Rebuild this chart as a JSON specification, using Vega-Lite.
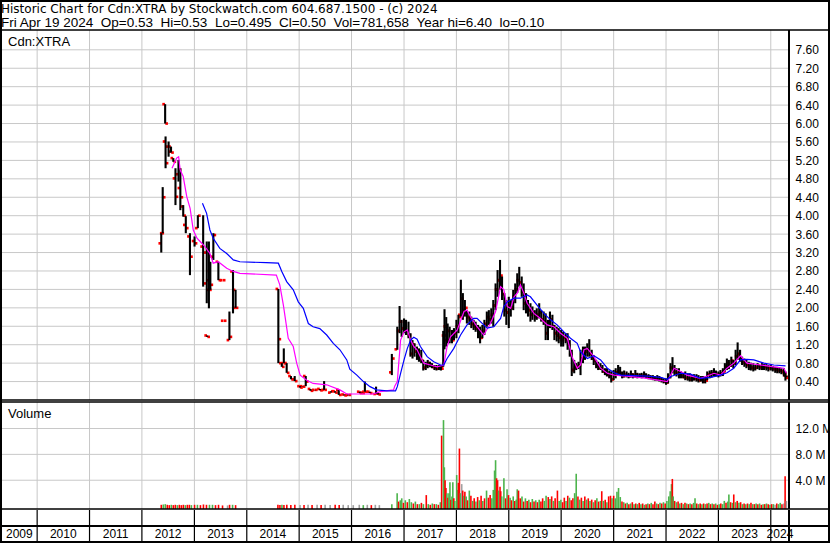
{
"$schema":"https://vega.github.io/schema/vega-lite/v6.json",
"width":830,"height":543,"autosize":"none","padding":0,"background":"white",
"config":{"view":{"stroke":"black","strokeWidth":4},"font":"Liberation Sans",
"axis":{"labelFont":"Liberation Sans","labelFontSize":12,"labelColor":"#000000","ticks":false,"tickSize":0,"domain":false,"grid":false,"labelPadding":6}},
"title":{"text":"Historic Chart for Cdn:XTRA by Stockwatch.com 604.687.1500 - (c) 2024","subtitle":"Fri Apr 19 2024 \u00a0Op=0.53 \u00a0Hi=0.53 \u00a0Lo=0.495 \u00a0Cl=0.50 \u00a0Vol=781,658 \u00a0Year hi=6.40 \u00a0lo=0.10","anchor":"start","frame":"group","orient":"top","offset":-30,"dy":0.5,"fontSize":12,"font":"DejaVu Sans","fontWeight":"normal","color":"#000000","subtitleFont":"Liberation Sans","subtitleFontSize":13.5,"subtitleColor":"#000000","subtitlePadding":0,"subtitleFontWeight":"normal","dx":1},
"datasets":{
"pg":[{"p":0.4},{"p":0.8},{"p":1.2},{"p":1.6},{"p":2.0},{"p":2.4},{"p":2.8},{"p":3.2},{"p":3.6},{"p":4.0},{"p":4.4},{"p":4.8},{"p":5.2},{"p":5.6},{"p":6.0},{"p":6.4},{"p":6.8},{"p":7.2},{"p":7.6}],
"vg":[{"g":4},{"g":8},{"g":12}],
"yr":[{"d":"2010-01-01"},{"d":"2011-01-01"},{"d":"2012-01-01"},{"d":"2013-01-01"},{"d":"2014-01-01"},{"d":"2015-01-01"},{"d":"2016-01-01"},{"d":"2017-01-01"},{"d":"2018-01-01"},{"d":"2019-01-01"},{"d":"2020-01-01"},{"d":"2021-01-01"},{"d":"2022-01-01"},{"d":"2023-01-01"},{"d":"2024-01-01"}],
"yl":[{"d":"2009-08-30","y":"2009"},{"d":"2010-07-02","y":"2010"},{"d":"2011-07-02","y":"2011"},{"d":"2012-07-02","y":"2012"},{"d":"2013-07-02","y":"2013"},{"d":"2014-07-02","y":"2014"},{"d":"2015-07-02","y":"2015"},{"d":"2016-07-02","y":"2016"},{"d":"2017-07-02","y":"2017"},{"d":"2018-07-02","y":"2018"},{"d":"2019-07-02","y":"2019"},{"d":"2020-07-02","y":"2020"},{"d":"2021-07-02","y":"2021"},{"d":"2022-07-02","y":"2022"},{"d":"2023-07-02","y":"2023"},{"d":"2024-03-05","y":"2024"}],
"px":[
{"d":"2012-05-15","o":3.40,"h":3.62,"l":3.20,"c":3.62},
{"d":"2012-05-25","o":3.62,"h":4.62,"l":3.62,"c":4.40},
{"d":"2012-06-11","o":6.42,"h":6.42,"l":6.00,"c":6.00},
{"d":"2012-06-14","o":5.61,"h":5.72,"l":5.03,"c":5.14},
{"d":"2012-07-05","o":5.50,"h":5.61,"l":5.28,"c":5.39},
{"d":"2012-07-22","o":5.50,"h":5.50,"l":5.37,"c":5.37},
{"d":"2012-08-07","o":5.25,"h":5.25,"l":5.17,"c":5.17},
{"d":"2012-08-22","o":4.81,"h":5.03,"l":4.23,"c":4.41},
{"d":"2012-09-12","o":4.90,"h":5.21,"l":4.74,"c":5.00},
{"d":"2012-09-25","o":4.60,"h":5.03,"l":4.12,"c":4.40},
{"d":"2012-10-15","o":4.20,"h":4.23,"l":3.98,"c":4.00},
{"d":"2012-11-02","o":3.80,"h":3.99,"l":3.62,"c":3.73},
{"d":"2012-12-01","o":3.55,"h":3.62,"l":2.71,"c":3.11},
{"d":"2013-01-02","o":3.45,"h":3.55,"l":3.33,"c":3.40},
{"d":"2013-01-25","o":3.73,"h":4.01,"l":3.73,"c":4.00},
{"d":"2013-03-03","o":3.33,"h":4.01,"l":2.46,"c":2.53},
{"d":"2013-03-28","o":3.20,"h":3.44,"l":2.10,"c":2.39},
{"d":"2013-03-31","o":1.40,"h":1.40,"l":1.37,"c":1.37},
{"d":"2013-04-12","o":2.60,"h":3.44,"l":1.99,"c":2.39},
{"d":"2013-04-22","o":2.80,"h":3.00,"l":2.39,"c":2.50},
{"d":"2013-05-13","o":3.11,"h":3.62,"l":3.04,"c":3.58},
{"d":"2013-06-17","o":3.00,"h":3.00,"l":2.60,"c":2.60},
{"d":"2013-07-17","o":2.60,"h":2.60,"l":2.60,"c":2.60},
{"d":"2013-07-24","o":1.72,"h":1.72,"l":1.72,"c":1.72},
{"d":"2013-09-02","o":1.30,"h":1.92,"l":1.30,"c":1.37},
{"d":"2013-09-27","o":2.79,"h":2.82,"l":1.88,"c":2.00},
{"d":"2013-10-15","o":2.39,"h":2.39,"l":2.00,"c":2.00},
{"d":"2014-08-09","o":2.41,"h":2.41,"l":0.80,"c":1.32},
{"d":"2014-09-02","o":0.80,"h":0.80,"l":0.72,"c":0.72},
{"d":"2014-09-16","o":0.80,"h":1.12,"l":0.80,"c":0.80},
{"d":"2014-10-06","o":0.80,"h":0.80,"l":0.59,"c":0.59},
{"d":"2014-11-05","o":0.52,"h":0.52,"l":0.45,"c":0.45},
{"d":"2014-12-01","o":0.45,"h":0.52,"l":0.41,"c":0.41},
{"d":"2015-01-07","o":0.30,"h":0.30,"l":0.27,"c":0.27},
{"d":"2015-01-25","o":0.30,"h":0.30,"l":0.29,"c":0.29},
{"d":"2015-02-16","o":0.52,"h":0.52,"l":0.30,"c":0.40},
{"d":"2015-03-21","o":0.24,"h":0.24,"l":0.20,"c":0.20},
{"d":"2015-04-20","o":0.22,"h":0.22,"l":0.21,"c":0.22},
{"d":"2015-05-26","o":0.24,"h":0.24,"l":0.21,"c":0.21},
{"d":"2015-06-24","o":0.22,"h":0.41,"l":0.22,"c":0.22},
{"d":"2015-08-10","o":0.16,"h":0.19,"l":0.16,"c":0.19},
{"d":"2015-09-08","o":0.19,"h":0.19,"l":0.16,"c":0.16},
{"d":"2015-10-04","o":0.22,"h":0.22,"l":0.11,"c":0.11},
{"d":"2015-11-10","o":0.12,"h":0.12,"l":0.10,"c":0.10},
{"d":"2015-12-10","o":0.11,"h":0.12,"l":0.10,"c":0.11},
{"d":"2016-02-27","o":0.18,"h":0.18,"l":0.15,"c":0.15},
{"d":"2016-03-15","o":0.16,"h":0.16,"l":0.15,"c":0.15},
{"d":"2016-04-03","o":0.18,"h":0.40,"l":0.18,"c":0.18},
{"d":"2016-05-07","o":0.18,"h":0.18,"l":0.15,"c":0.15},
{"d":"2016-06-20","o":0.13,"h":0.29,"l":0.13,"c":0.14},
{"d":"2016-07-05","o":0.15,"h":0.15,"l":0.12,"c":0.12},
{"d":"2016-10-08","o":0.60,"h":1.00,"l":0.54,"c":0.90},
{"d":"2016-11-15","o":1.10,"h":1.59,"l":1.09,"c":1.50},
{"d":"2016-12-01","o":1.50,"h":2.04,"l":1.45,"c":1.70},
{"d":"2016-12-15","o":1.70,"h":1.74,"l":1.37,"c":1.55},
{"d":"2017-01-01","o":1.55,"h":1.77,"l":1.45,"c":1.60},
{"d":"2017-01-15","o":1.60,"h":1.74,"l":1.41,"c":1.50},
{"d":"2017-02-01","o":1.50,"h":1.70,"l":1.34,"c":1.40},
{"d":"2017-02-15","o":1.40,"h":1.45,"l":0.94,"c":1.00},
{"d":"2017-03-01","o":1.00,"h":1.30,"l":0.90,"c":1.20},
{"d":"2017-03-15","o":1.20,"h":1.23,"l":0.94,"c":1.05},
{"d":"2017-04-01","o":1.05,"h":1.16,"l":0.87,"c":1.00},
{"d":"2017-04-15","o":1.00,"h":1.12,"l":0.83,"c":0.95},
{"d":"2017-05-01","o":0.95,"h":1.09,"l":0.80,"c":0.85},
{"d":"2017-05-15","o":0.85,"h":0.87,"l":0.64,"c":0.70},
{"d":"2017-06-01","o":0.70,"h":0.83,"l":0.65,"c":0.75},
{"d":"2017-06-15","o":0.75,"h":0.87,"l":0.69,"c":0.80},
{"d":"2017-07-01","o":0.80,"h":0.83,"l":0.71,"c":0.75},
{"d":"2017-07-15","o":0.75,"h":0.80,"l":0.69,"c":0.72},
{"d":"2017-08-01","o":0.72,"h":0.76,"l":0.65,"c":0.70},
{"d":"2017-08-15","o":0.70,"h":0.76,"l":0.64,"c":0.68},
{"d":"2017-09-01","o":0.68,"h":0.76,"l":0.65,"c":0.70},
{"d":"2017-09-15","o":0.70,"h":0.76,"l":0.64,"c":0.68},
{"d":"2017-10-01","o":0.72,"h":1.50,"l":0.72,"c":1.40},
{"d":"2017-10-10","o":1.40,"h":1.97,"l":1.10,"c":1.60},
{"d":"2017-10-22","o":1.60,"h":1.80,"l":1.16,"c":1.30},
{"d":"2017-11-01","o":1.30,"h":1.66,"l":1.23,"c":1.50},
{"d":"2017-11-15","o":1.50,"h":1.59,"l":1.23,"c":1.35},
{"d":"2017-12-01","o":1.35,"h":1.52,"l":1.23,"c":1.30},
{"d":"2017-12-15","o":1.30,"h":1.56,"l":1.30,"c":1.45},
{"d":"2018-01-01","o":1.45,"h":1.74,"l":1.34,"c":1.60},
{"d":"2018-01-15","o":1.60,"h":1.85,"l":1.45,"c":1.80},
{"d":"2018-02-01","o":1.85,"h":2.61,"l":1.81,"c":2.20},
{"d":"2018-02-15","o":2.20,"h":2.32,"l":1.74,"c":1.95},
{"d":"2018-03-01","o":1.95,"h":2.17,"l":1.81,"c":2.00},
{"d":"2018-03-15","o":1.90,"h":1.95,"l":1.66,"c":1.80},
{"d":"2018-04-01","o":1.80,"h":1.92,"l":1.63,"c":1.75},
{"d":"2018-04-15","o":1.75,"h":1.81,"l":1.56,"c":1.65},
{"d":"2018-05-01","o":1.65,"h":1.74,"l":1.52,"c":1.60},
{"d":"2018-05-15","o":1.60,"h":1.70,"l":1.48,"c":1.55},
{"d":"2018-06-01","o":1.55,"h":1.63,"l":1.34,"c":1.45},
{"d":"2018-06-15","o":1.45,"h":1.59,"l":1.23,"c":1.35},
{"d":"2018-07-01","o":1.35,"h":1.63,"l":1.34,"c":1.50},
{"d":"2018-07-15","o":1.50,"h":1.74,"l":1.41,"c":1.65},
{"d":"2018-08-01","o":1.65,"h":1.92,"l":1.59,"c":1.80},
{"d":"2018-08-15","o":1.80,"h":1.95,"l":1.63,"c":1.75},
{"d":"2018-09-01","o":1.75,"h":1.99,"l":1.66,"c":1.85},
{"d":"2018-09-15","o":1.85,"h":2.17,"l":1.59,"c":2.05},
{"d":"2018-10-01","o":2.05,"h":2.53,"l":1.95,"c":2.40},
{"d":"2018-10-15","o":2.40,"h":2.82,"l":2.24,"c":2.60},
{"d":"2018-11-01","o":2.60,"h":3.04,"l":2.39,"c":2.70},
{"d":"2018-11-15","o":2.60,"h":2.68,"l":2.17,"c":2.30},
{"d":"2018-12-01","o":2.30,"h":2.32,"l":1.81,"c":1.95},
{"d":"2018-12-15","o":1.95,"h":2.17,"l":1.63,"c":1.90},
{"d":"2019-01-01","o":1.90,"h":2.24,"l":1.56,"c":2.05},
{"d":"2019-01-15","o":2.05,"h":2.17,"l":1.81,"c":2.00},
{"d":"2019-02-01","o":2.00,"h":2.39,"l":1.95,"c":2.25},
{"d":"2019-02-15","o":2.25,"h":2.53,"l":2.10,"c":2.40},
{"d":"2019-03-01","o":2.40,"h":2.75,"l":2.32,"c":2.60},
{"d":"2019-03-15","o":2.60,"h":2.89,"l":2.46,"c":2.55},
{"d":"2019-04-01","o":2.55,"h":2.68,"l":2.24,"c":2.35},
{"d":"2019-04-15","o":2.35,"h":2.53,"l":1.95,"c":2.10},
{"d":"2019-05-01","o":2.10,"h":2.32,"l":1.88,"c":2.00},
{"d":"2019-05-15","o":2.00,"h":2.17,"l":1.81,"c":1.95},
{"d":"2019-06-01","o":1.95,"h":2.10,"l":1.70,"c":1.85},
{"d":"2019-06-15","o":1.85,"h":2.03,"l":1.74,"c":1.90},
{"d":"2019-07-01","o":1.90,"h":1.95,"l":1.70,"c":1.80},
{"d":"2019-07-15","o":1.80,"h":1.99,"l":1.74,"c":1.85},
{"d":"2019-08-01","o":1.85,"h":2.10,"l":1.77,"c":1.90},
{"d":"2019-08-15","o":1.90,"h":1.95,"l":1.70,"c":1.75},
{"d":"2019-09-01","o":1.75,"h":1.92,"l":1.63,"c":1.70},
{"d":"2019-09-15","o":1.70,"h":1.88,"l":1.30,"c":1.45},
{"d":"2019-10-01","o":1.45,"h":1.74,"l":1.30,"c":1.60},
{"d":"2019-10-15","o":1.60,"h":1.92,"l":1.56,"c":1.75},
{"d":"2019-11-01","o":1.75,"h":1.85,"l":1.52,"c":1.60},
{"d":"2019-11-15","o":1.60,"h":1.63,"l":1.30,"c":1.45},
{"d":"2019-12-01","o":1.45,"h":1.59,"l":1.27,"c":1.40},
{"d":"2019-12-15","o":1.40,"h":1.56,"l":1.23,"c":1.35},
{"d":"2020-01-01","o":1.35,"h":1.52,"l":1.16,"c":1.30},
{"d":"2020-01-15","o":1.30,"h":1.48,"l":1.16,"c":1.35},
{"d":"2020-02-01","o":1.35,"h":1.45,"l":1.23,"c":1.30},
{"d":"2020-02-15","o":1.30,"h":1.45,"l":1.09,"c":1.20},
{"d":"2020-03-01","o":1.20,"h":1.30,"l":0.94,"c":1.00},
{"d":"2020-03-15","o":1.00,"h":1.09,"l":0.52,"c":0.65},
{"d":"2020-04-01","o":0.65,"h":0.87,"l":0.58,"c":0.70},
{"d":"2020-04-15","o":0.70,"h":0.80,"l":0.65,"c":0.72},
{"d":"2020-05-01","o":0.72,"h":0.83,"l":0.67,"c":0.75},
{"d":"2020-05-15","o":0.75,"h":1.09,"l":0.54,"c":0.90},
{"d":"2020-06-01","o":0.90,"h":1.16,"l":0.80,"c":1.00},
{"d":"2020-06-15","o":1.00,"h":1.16,"l":0.87,"c":1.05},
{"d":"2020-07-01","o":1.05,"h":1.23,"l":0.94,"c":1.10},
{"d":"2020-07-15","o":1.10,"h":1.32,"l":0.94,"c":1.00},
{"d":"2020-08-01","o":1.00,"h":1.09,"l":0.87,"c":0.95},
{"d":"2020-08-15","o":0.90,"h":0.94,"l":0.76,"c":0.85},
{"d":"2020-09-01","o":0.85,"h":0.87,"l":0.69,"c":0.75},
{"d":"2020-09-15","o":0.75,"h":0.83,"l":0.65,"c":0.70},
{"d":"2020-10-01","o":0.70,"h":0.80,"l":0.65,"c":0.68},
{"d":"2020-10-15","o":0.68,"h":0.76,"l":0.59,"c":0.62},
{"d":"2020-11-01","o":0.62,"h":0.69,"l":0.54,"c":0.58},
{"d":"2020-11-15","o":0.58,"h":0.69,"l":0.51,"c":0.55},
{"d":"2020-12-01","o":0.55,"h":0.64,"l":0.47,"c":0.52},
{"d":"2020-12-15","o":0.52,"h":0.62,"l":0.38,"c":0.45},
{"d":"2021-01-01","o":0.45,"h":0.65,"l":0.43,"c":0.55},
{"d":"2021-01-15","o":0.55,"h":0.69,"l":0.47,"c":0.60},
{"d":"2021-02-01","o":0.60,"h":0.76,"l":0.54,"c":0.62},
{"d":"2021-02-15","o":0.62,"h":0.72,"l":0.52,"c":0.58},
{"d":"2021-03-01","o":0.58,"h":0.62,"l":0.47,"c":0.52},
{"d":"2021-03-15","o":0.52,"h":0.64,"l":0.49,"c":0.55},
{"d":"2021-04-01","o":0.55,"h":0.62,"l":0.49,"c":0.53},
{"d":"2021-04-15","o":0.53,"h":0.59,"l":0.47,"c":0.52},
{"d":"2021-05-01","o":0.52,"h":0.64,"l":0.49,"c":0.55},
{"d":"2021-05-15","o":0.55,"h":0.58,"l":0.47,"c":0.52},
{"d":"2021-06-01","o":0.52,"h":0.65,"l":0.49,"c":0.55},
{"d":"2021-06-15","o":0.55,"h":0.59,"l":0.47,"c":0.52},
{"d":"2021-07-01","o":0.52,"h":0.58,"l":0.48,"c":0.53},
{"d":"2021-07-15","o":0.53,"h":0.59,"l":0.47,"c":0.52},
{"d":"2021-08-01","o":0.52,"h":0.62,"l":0.49,"c":0.54},
{"d":"2021-08-15","o":0.54,"h":0.58,"l":0.47,"c":0.51},
{"d":"2021-09-01","o":0.51,"h":0.56,"l":0.45,"c":0.50},
{"d":"2021-09-15","o":0.50,"h":0.54,"l":0.45,"c":0.48},
{"d":"2021-10-01","o":0.48,"h":0.54,"l":0.43,"c":0.47},
{"d":"2021-10-15","o":0.47,"h":0.52,"l":0.42,"c":0.46},
{"d":"2021-11-01","o":0.46,"h":0.54,"l":0.42,"c":0.47},
{"d":"2021-11-15","o":0.47,"h":0.52,"l":0.40,"c":0.45},
{"d":"2021-12-01","o":0.45,"h":0.49,"l":0.38,"c":0.42},
{"d":"2021-12-15","o":0.42,"h":0.47,"l":0.36,"c":0.40},
{"d":"2022-01-01","o":0.40,"h":0.47,"l":0.33,"c":0.38},
{"d":"2022-01-15","o":0.38,"h":0.58,"l":0.36,"c":0.50},
{"d":"2022-02-01","o":0.50,"h":0.80,"l":0.47,"c":0.70},
{"d":"2022-02-15","o":0.70,"h":0.93,"l":0.58,"c":0.65},
{"d":"2022-03-01","o":0.65,"h":0.76,"l":0.54,"c":0.60},
{"d":"2022-03-15","o":0.60,"h":0.69,"l":0.51,"c":0.58},
{"d":"2022-04-01","o":0.58,"h":0.69,"l":0.47,"c":0.55},
{"d":"2022-04-15","o":0.55,"h":0.62,"l":0.47,"c":0.52},
{"d":"2022-05-01","o":0.52,"h":0.59,"l":0.47,"c":0.50},
{"d":"2022-05-15","o":0.50,"h":0.62,"l":0.43,"c":0.48},
{"d":"2022-06-01","o":0.48,"h":0.58,"l":0.42,"c":0.47},
{"d":"2022-06-15","o":0.47,"h":0.58,"l":0.40,"c":0.45},
{"d":"2022-07-01","o":0.45,"h":0.54,"l":0.40,"c":0.46},
{"d":"2022-07-15","o":0.46,"h":0.56,"l":0.42,"c":0.47},
{"d":"2022-08-01","o":0.47,"h":0.56,"l":0.40,"c":0.45},
{"d":"2022-08-15","o":0.45,"h":0.54,"l":0.38,"c":0.43},
{"d":"2022-09-01","o":0.43,"h":0.52,"l":0.40,"c":0.44},
{"d":"2022-09-15","o":0.44,"h":0.52,"l":0.36,"c":0.40},
{"d":"2022-10-01","o":0.40,"h":0.51,"l":0.36,"c":0.42},
{"d":"2022-10-15","o":0.45,"h":0.62,"l":0.43,"c":0.55},
{"d":"2022-11-01","o":0.55,"h":0.64,"l":0.47,"c":0.57},
{"d":"2022-11-15","o":0.57,"h":0.65,"l":0.49,"c":0.58},
{"d":"2022-12-01","o":0.58,"h":0.69,"l":0.52,"c":0.60},
{"d":"2022-12-15","o":0.60,"h":0.64,"l":0.51,"c":0.56},
{"d":"2023-01-01","o":0.56,"h":0.62,"l":0.49,"c":0.55},
{"d":"2023-01-15","o":0.55,"h":0.65,"l":0.51,"c":0.58},
{"d":"2023-02-01","o":0.58,"h":0.69,"l":0.52,"c":0.62},
{"d":"2023-02-15","o":0.62,"h":0.80,"l":0.62,"c":0.72},
{"d":"2023-03-01","o":0.72,"h":0.90,"l":0.65,"c":0.80},
{"d":"2023-03-15","o":0.80,"h":0.87,"l":0.67,"c":0.75},
{"d":"2023-04-01","o":0.75,"h":0.94,"l":0.72,"c":0.85},
{"d":"2023-04-15","o":0.85,"h":0.87,"l":0.69,"c":0.80},
{"d":"2023-05-01","o":0.80,"h":1.09,"l":0.76,"c":0.95},
{"d":"2023-05-15","o":0.95,"h":1.25,"l":0.87,"c":1.00},
{"d":"2023-06-01","o":1.00,"h":1.09,"l":0.83,"c":0.90},
{"d":"2023-06-15","o":0.90,"h":0.94,"l":0.76,"c":0.82},
{"d":"2023-07-01","o":0.82,"h":0.90,"l":0.72,"c":0.80},
{"d":"2023-07-15","o":0.80,"h":0.87,"l":0.69,"c":0.76},
{"d":"2023-08-01","o":0.76,"h":0.83,"l":0.65,"c":0.72},
{"d":"2023-08-15","o":0.72,"h":0.81,"l":0.64,"c":0.70},
{"d":"2023-09-01","o":0.70,"h":0.80,"l":0.62,"c":0.68},
{"d":"2023-09-15","o":0.68,"h":0.76,"l":0.64,"c":0.70},
{"d":"2023-10-01","o":0.70,"h":0.80,"l":0.67,"c":0.74},
{"d":"2023-10-15","o":0.74,"h":0.76,"l":0.65,"c":0.71},
{"d":"2023-11-01","o":0.71,"h":0.80,"l":0.65,"c":0.74},
{"d":"2023-11-15","o":0.74,"h":0.78,"l":0.65,"c":0.72},
{"d":"2023-12-01","o":0.72,"h":0.78,"l":0.64,"c":0.71},
{"d":"2023-12-15","o":0.71,"h":0.76,"l":0.62,"c":0.69},
{"d":"2024-01-01","o":0.69,"h":0.76,"l":0.64,"c":0.70},
{"d":"2024-01-15","o":0.70,"h":0.74,"l":0.62,"c":0.68},
{"d":"2024-02-01","o":0.68,"h":0.72,"l":0.59,"c":0.66},
{"d":"2024-02-15","o":0.66,"h":0.72,"l":0.58,"c":0.65},
{"d":"2024-03-01","o":0.65,"h":0.71,"l":0.58,"c":0.64},
{"d":"2024-03-15","o":0.64,"h":0.69,"l":0.56,"c":0.62},
{"d":"2024-04-01","o":0.62,"h":0.69,"l":0.51,"c":0.58},
{"d":"2024-04-12","o":0.58,"h":0.62,"l":0.42,"c":0.48},
{"d":"2024-04-19","o":0.53,"h":0.53,"l":0.495,"c":0.50}],
"ma":[
{"s":"m","d":"2012-07-29","v":5.03},{"s":"m","d":"2012-08-30","v":5.25},{"s":"m","d":"2012-09-13","v":5.28},{"s":"m","d":"2012-09-24","v":4.99},{"s":"m","d":"2012-10-15","v":4.85},{"s":"m","d":"2012-11-09","v":4.41},{"s":"m","d":"2012-12-02","v":4.16},{"s":"m","d":"2012-12-24","v":3.69},{"s":"m","d":"2013-01-19","v":3.51},{"s":"m","d":"2013-02-10","v":3.44},{"s":"m","d":"2013-03-15","v":3.33},{"s":"m","d":"2013-04-19","v":3.18},{"s":"m","d":"2013-05-12","v":2.97},{"s":"m","d":"2013-06-16","v":3.00},{"s":"m","d":"2013-08-14","v":2.86},{"s":"m","d":"2013-09-29","v":2.79},{"s":"m","d":"2013-11-14","v":2.75},{"s":"m","d":"2014-07-26","v":2.71},{"s":"m","d":"2014-08-19","v":2.50},{"s":"m","d":"2014-09-13","v":2.06},{"s":"m","d":"2014-10-17","v":1.34},{"s":"m","d":"2014-11-21","v":1.16},{"s":"m","d":"2014-12-15","v":0.80},{"s":"m","d":"2015-01-08","v":0.54},{"s":"m","d":"2015-02-23","v":0.43},{"s":"m","d":"2015-04-08","v":0.36},{"s":"m","d":"2015-07-12","v":0.33},{"s":"m","d":"2015-10-12","v":0.22},{"s":"m","d":"2015-11-29","v":0.13},{"s":"m","d":"2016-06-02","v":0.13},{"s":"m","d":"2016-07-17","v":0.18},{"s":"m","d":"2016-10-20","v":0.22},{"s":"m","d":"2016-10-28","v":0.30},{"s":"m","d":"2016-11-15","v":0.40},{"s":"m","d":"2016-11-27","v":0.87},{"s":"m","d":"2016-12-08","v":1.30},{"s":"m","d":"2017-01-01","v":1.48},{"s":"m","d":"2017-01-24","v":1.52},{"s":"m","d":"2017-02-16","v":1.30},{"s":"m","d":"2017-03-10","v":1.16},{"s":"m","d":"2017-04-02","v":1.09},{"s":"m","d":"2017-04-25","v":0.94},{"s":"m","d":"2017-05-18","v":0.80},{"s":"m","d":"2017-07-04","v":0.76},{"s":"m","d":"2017-08-20","v":0.72},{"s":"m","d":"2017-10-05","v":0.76},{"s":"m","d":"2017-10-28","v":1.16},{"s":"m","d":"2017-11-21","v":1.37},{"s":"m","d":"2018-01-07","v":1.52},{"s":"m","d":"2018-02-23","v":1.92},{"s":"m","d":"2018-03-16","v":1.95},{"s":"m","d":"2018-04-09","v":1.81},{"s":"m","d":"2018-05-25","v":1.59},{"s":"m","d":"2018-07-10","v":1.41},{"s":"m","d":"2018-08-26","v":1.66},{"s":"m","d":"2018-10-01","v":1.92},{"s":"m","d":"2018-11-05","v":2.46},{"s":"m","d":"2018-11-28","v":2.39},{"s":"m","d":"2018-12-21","v":2.03},{"s":"m","d":"2019-01-14","v":1.99},{"s":"m","d":"2019-02-07","v":2.24},{"s":"m","d":"2019-03-01","v":2.32},{"s":"m","d":"2019-03-23","v":2.50},{"s":"m","d":"2019-04-16","v":2.32},{"s":"m","d":"2019-05-09","v":2.10},{"s":"m","d":"2019-06-25","v":1.88},{"s":"m","d":"2019-08-10","v":1.77},{"s":"m","d":"2019-09-26","v":1.63},{"s":"m","d":"2019-11-11","v":1.59},{"s":"m","d":"2019-12-28","v":1.45},{"s":"m","d":"2020-02-13","v":1.34},{"s":"m","d":"2020-03-17","v":0.94},{"s":"m","d":"2020-04-22","v":0.69},{"s":"m","d":"2020-05-15","v":0.76},{"s":"m","d":"2020-06-08","v":1.09},{"s":"m","d":"2020-07-01","v":1.12},{"s":"m","d":"2020-08-16","v":0.94},{"s":"m","d":"2020-10-02","v":0.69},{"s":"m","d":"2020-11-18","v":0.58},{"s":"m","d":"2021-01-04","v":0.54},{"s":"m","d":"2021-04-05","v":0.52},{"s":"m","d":"2021-08-23","v":0.47},{"s":"m","d":"2022-01-10","v":0.40},{"s":"m","d":"2022-02-26","v":0.69},{"s":"m","d":"2022-04-12","v":0.62},{"s":"m","d":"2022-05-28","v":0.54},{"s":"m","d":"2022-08-29","v":0.47},{"s":"m","d":"2022-10-15","v":0.52},{"s":"m","d":"2022-12-01","v":0.58},{"s":"m","d":"2023-01-16","v":0.54},{"s":"m","d":"2023-03-02","v":0.69},{"s":"m","d":"2023-04-18","v":0.80},{"s":"m","d":"2023-06-04","v":0.96},{"s":"m","d":"2023-07-19","v":0.80},{"s":"m","d":"2023-10-21","v":0.76},{"s":"m","d":"2024-01-22","v":0.72},{"s":"m","d":"2024-04-01","v":0.69},{"s":"m","d":"2024-04-19","v":0.58},
{"s":"b","d":"2013-02-26","v":4.27},{"s":"b","d":"2013-03-27","v":4.05},{"s":"b","d":"2013-04-19","v":3.69},{"s":"b","d":"2013-05-12","v":3.51},{"s":"b","d":"2013-06-27","v":3.29},{"s":"b","d":"2013-08-14","v":3.18},{"s":"b","d":"2013-09-29","v":3.04},{"s":"b","d":"2013-11-14","v":3.00},{"s":"b","d":"2014-05-18","v":2.98},{"s":"b","d":"2014-08-09","v":2.97},{"s":"b","d":"2014-09-02","v":2.79},{"s":"b","d":"2014-10-06","v":2.57},{"s":"b","d":"2014-11-21","v":2.39},{"s":"b","d":"2014-12-26","v":2.13},{"s":"b","d":"2015-01-30","v":1.99},{"s":"b","d":"2015-03-06","v":1.66},{"s":"b","d":"2015-04-08","v":1.59},{"s":"b","d":"2015-05-25","v":1.55},{"s":"b","d":"2015-07-12","v":1.41},{"s":"b","d":"2015-08-27","v":1.23},{"s":"b","d":"2015-10-12","v":1.09},{"s":"b","d":"2015-11-29","v":0.87},{"s":"b","d":"2015-12-20","v":0.67},{"s":"b","d":"2016-02-07","v":0.54},{"s":"b","d":"2016-03-24","v":0.40},{"s":"b","d":"2016-05-09","v":0.29},{"s":"b","d":"2016-06-24","v":0.22},{"s":"b","d":"2016-09-02","v":0.20},{"s":"b","d":"2016-11-03","v":0.20},{"s":"b","d":"2016-11-15","v":0.29},{"s":"b","d":"2016-12-08","v":0.58},{"s":"b","d":"2017-01-01","v":0.87},{"s":"b","d":"2017-01-24","v":1.12},{"s":"b","d":"2017-02-16","v":1.30},{"s":"b","d":"2017-03-10","v":1.36},{"s":"b","d":"2017-04-02","v":1.32},{"s":"b","d":"2017-04-25","v":1.16},{"s":"b","d":"2017-06-11","v":0.94},{"s":"b","d":"2017-07-27","v":0.83},{"s":"b","d":"2017-09-13","v":0.76},{"s":"b","d":"2017-10-05","v":0.76},{"s":"b","d":"2017-10-28","v":0.90},{"s":"b","d":"2017-12-14","v":1.12},{"s":"b","d":"2018-01-30","v":1.41},{"s":"b","d":"2018-03-16","v":1.63},{"s":"b","d":"2018-05-01","v":1.77},{"s":"b","d":"2018-05-25","v":1.77},{"s":"b","d":"2018-06-17","v":1.70},{"s":"b","d":"2018-08-03","v":1.56},{"s":"b","d":"2018-09-19","v":1.59},{"s":"b","d":"2018-11-05","v":1.77},{"s":"b","d":"2018-11-28","v":2.03},{"s":"b","d":"2018-12-21","v":2.13},{"s":"b","d":"2019-02-07","v":2.21},{"s":"b","d":"2019-03-23","v":2.21},{"s":"b","d":"2019-05-09","v":2.28},{"s":"b","d":"2019-06-01","v":2.24},{"s":"b","d":"2019-07-17","v":2.06},{"s":"b","d":"2019-09-03","v":1.88},{"s":"b","d":"2019-10-19","v":1.74},{"s":"b","d":"2019-12-04","v":1.63},{"s":"b","d":"2020-01-20","v":1.48},{"s":"b","d":"2020-03-06","v":1.34},{"s":"b","d":"2020-04-22","v":1.23},{"s":"b","d":"2020-05-15","v":1.05},{"s":"b","d":"2020-07-01","v":0.90},{"s":"b","d":"2020-08-16","v":0.96},{"s":"b","d":"2020-10-02","v":0.87},{"s":"b","d":"2020-11-18","v":0.69},{"s":"b","d":"2021-01-04","v":0.59},{"s":"b","d":"2021-02-19","v":0.54},{"s":"b","d":"2021-05-21","v":0.53},{"s":"b","d":"2021-08-23","v":0.52},{"s":"b","d":"2021-11-24","v":0.49},{"s":"b","d":"2022-01-10","v":0.45},{"s":"b","d":"2022-02-03","v":0.51},{"s":"b","d":"2022-04-12","v":0.58},{"s":"b","d":"2022-06-21","v":0.56},{"s":"b","d":"2022-08-29","v":0.47},{"s":"b","d":"2022-11-08","v":0.49},{"s":"b","d":"2023-01-16","v":0.54},{"s":"b","d":"2023-03-02","v":0.59},{"s":"b","d":"2023-04-18","v":0.69},{"s":"b","d":"2023-06-04","v":0.87},{"s":"b","d":"2023-07-19","v":0.88},{"s":"b","d":"2023-09-05","v":0.87},{"s":"b","d":"2023-11-14","v":0.80},{"s":"b","d":"2024-01-22","v":0.76},{"s":"b","d":"2024-04-13","v":0.74}],
"vol":[
{"d":"2012-05-15","v":0.2,"k":"d"},{"d":"2012-05-29","v":0.25,"k":"u"},{"d":"2012-06-12","v":0.3,"k":"u"},{"d":"2012-06-26","v":0.2,"k":"d"},{"d":"2012-07-10","v":0.15,"k":"d"},{"d":"2012-07-24","v":0.2,"k":"u"},{"d":"2012-08-07","v":0.15,"k":"d"},{"d":"2012-08-21","v":0.2,"k":"d"},{"d":"2012-09-04","v":0.15,"k":"u"},{"d":"2012-09-18","v":0.2,"k":"d"},{"d":"2012-10-02","v":0.15,"k":"d"},{"d":"2012-10-16","v":0.2,"k":"d"},{"d":"2012-10-30","v":0.15,"k":"u"},{"d":"2012-11-13","v":0.2,"k":"d"},{"d":"2012-11-27","v":0.2,"k":"d"},{"d":"2012-12-11","v":0.15,"k":"u"},{"d":"2013-01-02","v":0.2,"k":"d"},{"d":"2013-01-22","v":0.2,"k":"u"},{"d":"2013-02-12","v":0.15,"k":"d"},{"d":"2013-03-05","v":0.25,"k":"d"},{"d":"2013-03-26","v":0.2,"k":"d"},{"d":"2013-04-16","v":0.2,"k":"u"},{"d":"2013-05-07","v":0.2,"k":"u"},{"d":"2013-05-28","v":0.15,"k":"d"},{"d":"2013-06-18","v":0.2,"k":"d"},{"d":"2013-07-16","v":0.1,"k":"d"},{"d":"2013-08-20","v":0.1,"k":"n"},{"d":"2013-09-03","v":0.2,"k":"d"},{"d":"2013-09-24","v":0.2,"k":"u"},{"d":"2013-10-15","v":0.15,"k":"d"},
{"d":"2014-08-06","v":0.2,"k":"d"},{"d":"2014-08-20","v":0.15,"k":"d"},{"d":"2014-09-03","v":0.2,"k":"u"},{"d":"2014-09-17","v":0.15,"k":"d"},{"d":"2014-10-07","v":0.2,"k":"d"},{"d":"2014-11-04","v":0.15,"k":"d"},{"d":"2014-12-02","v":0.2,"k":"d"},{"d":"2015-01-07","v":0.15,"k":"n"},{"d":"2015-02-04","v":0.15,"k":"d"},{"d":"2015-03-04","v":0.2,"k":"n"},{"d":"2015-04-01","v":0.15,"k":"d"},{"d":"2015-05-06","v":0.2,"k":"n"},{"d":"2015-06-03","v":0.15,"k":"d"},{"d":"2015-07-01","v":0.2,"k":"n"},{"d":"2015-08-05","v":0.15,"k":"n"},{"d":"2015-09-09","v":0.2,"k":"d"},{"d":"2015-10-07","v":0.15,"k":"d"},{"d":"2015-11-04","v":0.2,"k":"n"},{"d":"2015-12-09","v":0.15,"k":"n"},{"d":"2016-01-13","v":0.15,"k":"n"},{"d":"2016-02-24","v":0.2,"k":"n"},{"d":"2016-03-23","v":0.15,"k":"u"},{"d":"2016-04-20","v":0.2,"k":"n"},{"d":"2016-05-18","v":0.15,"k":"d"},{"d":"2016-06-15","v":0.2,"k":"n"},{"d":"2016-07-13","v":0.15,"k":"n"},
{"d":"2016-10-08","v":0.3,"k":"u"},{"d":"2016-11-14","v":2.0,"k":"u"},{"d":"2016-11-24","v":0.7,"k":"d"},{"d":"2016-12-06","v":0.9,"k":"u"},{"d":"2016-12-16","v":1.2,"k":"u"},{"d":"2016-12-28","v":0.5,"k":"d"},{"d":"2017-01-10","v":0.9,"k":"u"},{"d":"2017-01-24","v":0.6,"k":"d"},{"d":"2017-02-07","v":1.1,"k":"u"},{"d":"2017-02-21","v":0.6,"k":"u"},{"d":"2017-03-07","v":0.4,"k":"d"},{"d":"2017-03-21","v":0.7,"k":"u"},{"d":"2017-04-04","v":0.3,"k":"d"},{"d":"2017-04-18","v":0.3,"k":"u"},{"d":"2017-05-02","v":0.5,"k":"d"},{"d":"2017-05-16","v":0.3,"k":"u"},{"d":"2017-06-05","v":1.7,"k":"d"},{"d":"2017-06-19","v":0.3,"k":"u"},{"d":"2017-07-03","v":0.2,"k":"d"},{"d":"2017-07-17","v":0.4,"k":"u"},{"d":"2017-07-31","v":0.3,"k":"d"},{"d":"2017-08-14","v":0.3,"k":"u"},{"d":"2017-08-28","v":0.2,"k":"d"},{"d":"2017-09-11","v":0.6,"k":"u"},{"d":"2017-09-20","v":10.9,"k":"d"},{"d":"2017-10-03","v":13.3,"k":"u"},{"d":"2017-10-09","v":6.0,"k":"u"},{"d":"2017-10-14","v":4.0,"k":"d"},{"d":"2017-10-20","v":2.8,"k":"d"},{"d":"2017-10-27","v":2.0,"k":"u"},{"d":"2017-11-03","v":1.3,"k":"d"},{"d":"2017-11-10","v":2.0,"k":"u"},{"d":"2017-11-17","v":3.7,"k":"u"},{"d":"2017-11-24","v":1.0,"k":"d"},{"d":"2017-12-01","v":1.5,"k":"u"},{"d":"2017-12-07","v":3.7,"k":"u"},{"d":"2017-12-14","v":1.2,"k":"d"},{"d":"2017-12-21","v":0.8,"k":"u"},{"d":"2018-01-03","v":4.8,"k":"u"},{"d":"2018-01-10","v":2.5,"k":"u"},{"d":"2018-01-15","v":3.6,"k":"d"},{"d":"2018-01-22","v":8.9,"k":"d"},{"d":"2018-01-29","v":2.0,"k":"u"},{"d":"2018-02-07","v":3.4,"k":"n"},{"d":"2018-02-14","v":2.4,"k":"d"},{"d":"2018-02-21","v":1.6,"k":"u"},{"d":"2018-03-01","v":2.2,"k":"d"},{"d":"2018-03-10","v":1.5,"k":"u"},{"d":"2018-03-20","v":0.9,"k":"d"},{"d":"2018-04-01","v":2.4,"k":"u"},{"d":"2018-04-12","v":1.6,"k":"d"},{"d":"2018-04-24","v":0.8,"k":"u"},{"d":"2018-05-05","v":1.2,"k":"d"},{"d":"2018-05-17","v":0.7,"k":"u"},{"d":"2018-05-29","v":1.4,"k":"d"},{"d":"2018-06-10","v":0.9,"k":"u"},{"d":"2018-06-22","v":1.6,"k":"d"},{"d":"2018-07-04","v":0.8,"k":"u"},{"d":"2018-07-16","v":1.2,"k":"d"},{"d":"2018-07-30","v":2.4,"k":"u"},{"d":"2018-08-12","v":1.3,"k":"d"},{"d":"2018-08-24","v":1.7,"k":"d"},{"d":"2018-09-05","v":1.2,"k":"u"},{"d":"2018-09-15","v":2.5,"k":"u"},{"d":"2018-09-24","v":5.5,"k":"u"},{"d":"2018-10-01","v":7.1,"k":"u"},{"d":"2018-10-08","v":4.3,"k":"d"},{"d":"2018-10-15","v":4.0,"k":"d"},{"d":"2018-10-22","v":2.4,"k":"u"},{"d":"2018-11-01","v":3.0,"k":"d"},{"d":"2018-11-06","v":2.3,"k":"d"},{"d":"2018-11-13","v":1.5,"k":"u"},{"d":"2018-11-28","v":4.3,"k":"u"},{"d":"2018-12-10","v":1.2,"k":"d"},{"d":"2018-12-20","v":2.6,"k":"u"},{"d":"2018-12-30","v":1.7,"k":"d"},{"d":"2019-01-10","v":1.3,"k":"u"},{"d":"2019-01-20","v":0.9,"k":"d"},{"d":"2019-02-01","v":1.5,"k":"u"},{"d":"2019-02-12","v":0.8,"k":"d"},{"d":"2019-02-22","v":1.0,"k":"u"},{"d":"2019-03-01","v":2.6,"k":"u"},{"d":"2019-03-10","v":2.4,"k":"d"},{"d":"2019-03-22","v":1.2,"k":"d"},{"d":"2019-04-03","v":1.5,"k":"u"},{"d":"2019-04-15","v":0.7,"k":"d"},{"d":"2019-04-27","v":1.2,"k":"u"},{"d":"2019-05-09","v":0.8,"k":"d"},{"d":"2019-05-21","v":1.0,"k":"u"},{"d":"2019-06-02","v":0.6,"k":"d"},{"d":"2019-06-14","v":1.1,"k":"u"},{"d":"2019-06-26","v":0.7,"k":"d"},{"d":"2019-07-08","v":0.9,"k":"u"},{"d":"2019-07-20","v":0.6,"k":"d"},{"d":"2019-08-01","v":1.0,"k":"u"},{"d":"2019-08-13","v":0.7,"k":"d"},{"d":"2019-08-25","v":1.2,"k":"d"},{"d":"2019-09-06","v":0.8,"k":"u"},{"d":"2019-09-18","v":1.6,"k":"u"},{"d":"2019-10-03","v":1.4,"k":"d"},{"d":"2019-10-15","v":1.1,"k":"u"},{"d":"2019-10-27","v":1.5,"k":"d"},{"d":"2019-11-08","v":0.8,"k":"u"},{"d":"2019-11-20","v":1.2,"k":"d"},{"d":"2019-12-06","v":2.4,"k":"d"},{"d":"2019-12-18","v":0.8,"k":"u"},{"d":"2019-12-30","v":1.0,"k":"u"},{"d":"2020-01-11","v":0.6,"k":"d"},{"d":"2020-01-23","v":1.3,"k":"d"},{"d":"2020-02-04","v":0.8,"k":"u"},{"d":"2020-02-16","v":1.6,"k":"d"},{"d":"2020-02-28","v":1.3,"k":"u"},{"d":"2020-03-11","v":0.9,"k":"d"},{"d":"2020-03-23","v":1.2,"k":"d"},{"d":"2020-04-04","v":2.0,"k":"u"},{"d":"2020-04-15","v":5.0,"k":"u"},{"d":"2020-04-27","v":1.5,"k":"d"},{"d":"2020-05-09","v":1.0,"k":"u"},{"d":"2020-05-21","v":1.3,"k":"d"},{"d":"2020-06-02","v":0.8,"k":"u"},{"d":"2020-06-14","v":1.5,"k":"d"},{"d":"2020-06-26","v":1.0,"k":"u"},{"d":"2020-07-08","v":1.2,"k":"d"},{"d":"2020-07-20","v":0.8,"k":"u"},{"d":"2020-08-01","v":1.0,"k":"d"},{"d":"2020-08-13","v":0.6,"k":"u"},{"d":"2020-08-25","v":0.9,"k":"d"},{"d":"2020-09-06","v":1.2,"k":"u"},{"d":"2020-09-18","v":0.7,"k":"d"},{"d":"2020-10-01","v":0.8,"k":"u"},{"d":"2020-10-10","v":2.3,"k":"d"},{"d":"2020-10-22","v":0.8,"k":"u"},{"d":"2020-11-03","v":1.0,"k":"d"},{"d":"2020-11-15","v":0.6,"k":"u"},{"d":"2020-11-27","v":1.5,"k":"d"},{"d":"2020-12-10","v":1.6,"k":"d"},{"d":"2020-12-20","v":1.2,"k":"u"},{"d":"2021-01-01","v":1.6,"k":"d"},{"d":"2021-01-12","v":1.2,"k":"u"},{"d":"2021-01-24","v":2.2,"k":"u"},{"d":"2021-02-04","v":2.8,"k":"u"},{"d":"2021-02-16","v":1.4,"k":"u"},{"d":"2021-02-28","v":0.7,"k":"d"},{"d":"2021-03-12","v":0.6,"k":"u"},{"d":"2021-03-24","v":0.4,"k":"d"},{"d":"2021-04-05","v":0.5,"k":"u"},{"d":"2021-04-17","v":0.3,"k":"d"},{"d":"2021-04-29","v":0.4,"k":"u"},{"d":"2021-05-11","v":0.6,"k":"d"},{"d":"2021-05-23","v":0.3,"k":"u"},{"d":"2021-06-04","v":0.4,"k":"d"},{"d":"2021-06-16","v":0.3,"k":"u"},{"d":"2021-06-28","v":0.5,"k":"d"},{"d":"2021-07-10","v":0.3,"k":"u"},{"d":"2021-07-22","v":0.4,"k":"d"},{"d":"2021-08-03","v":0.2,"k":"u"},{"d":"2021-08-15","v":0.3,"k":"d"},{"d":"2021-08-27","v":0.4,"k":"u"},{"d":"2021-09-08","v":0.3,"k":"d"},{"d":"2021-09-20","v":0.5,"k":"u"},{"d":"2021-10-02","v":0.3,"k":"d"},{"d":"2021-10-15","v":0.7,"k":"d"},{"d":"2021-10-27","v":0.4,"k":"u"},{"d":"2021-11-08","v":0.3,"k":"d"},{"d":"2021-11-20","v":0.5,"k":"u"},{"d":"2021-12-02","v":0.4,"k":"d"},{"d":"2021-12-14","v":0.6,"k":"u"},{"d":"2021-12-26","v":0.4,"k":"d"},{"d":"2022-01-07","v":0.8,"k":"u"},{"d":"2022-01-20","v":1.5,"k":"u"},{"d":"2022-01-30","v":2.3,"k":"u"},{"d":"2022-02-08","v":3.4,"k":"u"},{"d":"2022-02-14","v":4.2,"k":"d"},{"d":"2022-02-20","v":1.5,"k":"u"},{"d":"2022-03-02","v":0.8,"k":"d"},{"d":"2022-03-14","v":0.6,"k":"u"},{"d":"2022-03-26","v":0.7,"k":"d"},{"d":"2022-04-07","v":0.4,"k":"u"},{"d":"2022-04-19","v":0.5,"k":"d"},{"d":"2022-05-01","v":0.3,"k":"u"},{"d":"2022-05-13","v":0.5,"k":"d"},{"d":"2022-05-25","v":0.4,"k":"u"},{"d":"2022-06-06","v":0.3,"k":"d"},{"d":"2022-06-18","v":0.4,"k":"u"},{"d":"2022-06-30","v":0.3,"k":"d"},{"d":"2022-07-12","v":0.5,"k":"u"},{"d":"2022-07-22","v":1.2,"k":"u"},{"d":"2022-08-03","v":0.4,"k":"d"},{"d":"2022-08-15","v":0.3,"k":"u"},{"d":"2022-08-27","v":0.4,"k":"d"},{"d":"2022-09-08","v":0.3,"k":"u"},{"d":"2022-09-20","v":0.4,"k":"d"},{"d":"2022-10-02","v":0.3,"k":"u"},{"d":"2022-10-14","v":0.4,"k":"d"},{"d":"2022-10-26","v":0.5,"k":"u"},{"d":"2022-11-07","v":0.3,"k":"d"},{"d":"2022-11-19","v":0.4,"k":"u"},{"d":"2022-12-01","v":0.3,"k":"d"},{"d":"2022-12-13","v":0.4,"k":"u"},{"d":"2022-12-25","v":0.2,"k":"d"},{"d":"2023-01-06","v":0.3,"k":"u"},{"d":"2023-01-18","v":0.4,"k":"d"},{"d":"2023-01-30","v":0.3,"k":"u"},{"d":"2023-02-11","v":0.8,"k":"u"},{"d":"2023-02-23","v":0.5,"k":"d"},{"d":"2023-03-07","v":0.7,"k":"u"},{"d":"2023-03-15","v":1.8,"k":"u"},{"d":"2023-03-27","v":0.6,"k":"d"},{"d":"2023-04-08","v":0.5,"k":"u"},{"d":"2023-04-18","v":1.8,"k":"d"},{"d":"2023-04-30","v":0.6,"k":"u"},{"d":"2023-05-12","v":0.8,"k":"d"},{"d":"2023-05-24","v":0.5,"k":"u"},{"d":"2023-06-05","v":0.6,"k":"d"},{"d":"2023-06-17","v":0.3,"k":"u"},{"d":"2023-06-29","v":0.4,"k":"d"},{"d":"2023-07-11","v":0.3,"k":"u"},{"d":"2023-07-23","v":0.4,"k":"d"},{"d":"2023-08-04","v":0.3,"k":"u"},{"d":"2023-08-16","v":0.5,"k":"d"},{"d":"2023-08-28","v":0.3,"k":"u"},{"d":"2023-09-09","v":0.3,"k":"d"},{"d":"2023-09-21","v":0.4,"k":"u"},{"d":"2023-10-03","v":0.3,"k":"d"},{"d":"2023-10-15","v":0.4,"k":"u"},{"d":"2023-10-27","v":0.2,"k":"d"},{"d":"2023-11-08","v":0.3,"k":"u"},{"d":"2023-11-20","v":0.3,"k":"d"},{"d":"2023-12-02","v":0.4,"k":"u"},{"d":"2023-12-14","v":0.3,"k":"d"},{"d":"2023-12-26","v":0.2,"k":"u"},{"d":"2024-01-07","v":0.3,"k":"d"},{"d":"2024-01-19","v":0.3,"k":"u"},{"d":"2024-01-31","v":0.2,"k":"n"},{"d":"2024-02-12","v":0.4,"k":"d"},{"d":"2024-02-24","v":0.3,"k":"u"},{"d":"2024-03-07","v":0.5,"k":"u"},{"d":"2024-03-19","v":0.3,"k":"d"},{"d":"2024-03-31","v":0.4,"k":"n"},{"d":"2024-04-10","v":4.6,"k":"d"},{"d":"2024-04-19","v":0.8,"k":"n"}]
},
"layer":[
{"resolve":{"axis":{"x":"independent","y":"independent"}},
 "layer":[
  {"data":{"name":"pg"},"mark":{"type":"rule","color":"#c8c8c8","strokeWidth":1},
   "encoding":{"x":{"datum":{"year":2009,"month":5,"date":1,"utc":true},"type":"temporal","scale":{"domain":[{"year":2009,"month":5,"date":1,"utc":true},{"year":2024,"month":5,"date":7,"utc":true}],"range":[2,789],"padding":0,"nice":false},"axis":null},
    "x2":{"datum":{"year":2024,"month":5,"date":7,"utc":true}},
    "y":{"field":"p","type":"quantitative","scale":{"domain":[0,8.03],"range":[400,30],"nice":false,"zero":false},
     "axis":{"orient":"right","offset":-41,"values":[0.4,0.8,1.2,1.6,2.0,2.4,2.8,3.2,3.6,4.0,4.4,4.8,5.2,5.6,6.0,6.4,6.8,7.2,7.6],"format":".2f","title":null,"grid":false,"domain":false,"ticks":false,"labelPadding":6,"labelFontSize":12}}}},
  {"data":{"name":"yr"},"mark":{"type":"rule","color":"#c8c8c8","strokeWidth":1},
   "encoding":{"x":{"field":"d","type":"temporal","axis":null},"y":{"datum":0,"type":"quantitative","axis":null},"y2":{"datum":8.03}}},
  {"data":{"name":"px"},"mark":{"type":"square","color":"#ff0000","opacity":1,"size":7,"xOffset":-1.5},
   "encoding":{"x":{"field":"d","type":"temporal","axis":null},"y":{"field":"o","type":"quantitative","axis":null}}},
  {"data":{"name":"px"},"mark":{"type":"square","color":"#ff0000","opacity":1,"size":7,"xOffset":1.5},
   "encoding":{"x":{"field":"d","type":"temporal","axis":null},"y":{"field":"c","type":"quantitative","axis":null}}},
  {"data":{"name":"px"},"mark":{"type":"rule","color":"#000000","strokeWidth":2.1},
   "encoding":{"x":{"field":"d","type":"temporal","axis":null},"y":{"field":"l","type":"quantitative","axis":null},"y2":{"field":"h"}}},
  {"data":{"name":"ma"},"mark":{"type":"line","strokeWidth":1.2},
   "encoding":{"x":{"field":"d","type":"temporal","axis":null},"y":{"field":"v","type":"quantitative","axis":null},
    "color":{"field":"s","type":"nominal","scale":{"domain":["m","b"],"range":["#ff00ff","#0000ff"]},"legend":null}}},
  {"data":{"values":[{"t":"Cdn:XTRA"}]},"mark":{"type":"text","align":"left","baseline":"middle","fontSize":13,"font":"Liberation Sans","color":"#000000"},
   "encoding":{"x":{"datum":{"year":2009,"month":6,"date":12,"utc":true},"type":"temporal","axis":null},"y":{"datum":7.77,"type":"quantitative","axis":null},"text":{"field":"t"}}},
  {"data":{"values":[{"y":8.03},{"y":0}]},"mark":{"type":"rule","color":"#000000","strokeWidth":1.6},
   "encoding":{"y":{"field":"y","type":"quantitative","axis":null}}},
  {"data":{"values":[{}]},"mark":{"type":"rule","color":"#000000","strokeWidth":2},
   "encoding":{"x":{"datum":{"year":2024,"month":5,"date":7,"utc":true},"type":"temporal","axis":null},"y":{"datum":0,"type":"quantitative","axis":null},"y2":{"datum":8.03}}}
 ]},
{"resolve":{"axis":{"x":"independent","y":"independent"}},
 "layer":[
  {"data":{"name":"vg"},"mark":{"type":"rule","color":"#c8c8c8","strokeWidth":1},
   "encoding":{"x":{"datum":{"year":2009,"month":5,"date":1,"utc":true},"type":"temporal","axis":null},
    "x2":{"datum":{"year":2024,"month":5,"date":7,"utc":true}},
    "y":{"field":"g","type":"quantitative","scale":{"domain":[-0.45,16.1],"range":[509,402],"nice":false,"zero":false},
     "axis":{"orient":"right","offset":-41,"values":[4,8,12],"labelExpr":"format(datum.value, '.1f') + ' M'","title":null,"grid":false,"domain":false,"ticks":false,"labelPadding":6,"labelFontSize":12}}}},
  {"data":{"name":"yr"},"mark":{"type":"rule","color":"#c8c8c8","strokeWidth":1},
   "encoding":{"x":{"field":"d","type":"temporal","axis":null},"y":{"datum":-0.45,"type":"quantitative","axis":null},"y2":{"datum":16.1}}},
  {"data":{"name":"vol"},"mark":{"type":"bar","width":1.6},
   "encoding":{"x":{"field":"d","type":"temporal","axis":null,"scale":{"padding":0}},"y":{"field":"v","type":"quantitative","axis":null},"y2":{"datum":-0.45},
    "color":{"field":"k","type":"nominal","scale":{"domain":["u","d","n"],"range":["#4cb44c","#ff0000","#a0a0a0"]},"legend":null}}},
  {"data":{"values":[{"t":"Volume"}]},"mark":{"type":"text","align":"left","baseline":"middle","fontSize":13,"font":"Liberation Sans","color":"#000000"},
   "encoding":{"x":{"datum":{"year":2009,"month":6,"date":12,"utc":true},"type":"temporal","axis":null},"y":{"datum":14.3,"type":"quantitative","axis":null},"text":{"field":"t"}}},
  {"data":{"values":[{"y":16.1},{"y":-0.45}]},"mark":{"type":"rule","color":"#000000","strokeWidth":1.6},
   "encoding":{"y":{"field":"y","type":"quantitative","axis":null}}},
  {"data":{"values":[{}]},"mark":{"type":"rule","color":"#000000","strokeWidth":2},
   "encoding":{"x":{"datum":{"year":2024,"month":5,"date":7,"utc":true},"type":"temporal","axis":null},"y":{"datum":-0.45,"type":"quantitative","axis":null},"y2":{"datum":16.1}}}
 ]},
{"resolve":{"axis":{"x":"independent","y":"independent"}},
 "layer":[
  {"data":{"name":"yr"},"mark":{"type":"rule","color":"#000000","strokeWidth":1.2},
   "encoding":{"x":{"field":"d","type":"temporal","axis":null},"y":{"datum":0,"type":"quantitative","scale":{"domain":[0,2],"range":[542,510],"nice":false},"axis":null},"y2":{"datum":2}}},
  {"data":{"values":[{"y":1}]},"mark":{"type":"rule","color":"#000000","strokeWidth":2},
   "encoding":{"y":{"field":"y","type":"quantitative","axis":null}}},
  {"data":{"name":"yl"},"mark":{"type":"text","align":"center","baseline":"middle","fontSize":12,"font":"Liberation Sans","color":"#000000"},
   "encoding":{"x":{"field":"d","type":"temporal","axis":null},"y":{"datum":0.5,"type":"quantitative","axis":null},"text":{"field":"y"}}},
  {"data":{"values":[{}]},"mark":{"type":"rule","color":"#000000","strokeWidth":2},
   "encoding":{"x":{"datum":{"year":2024,"month":5,"date":7,"utc":true},"type":"temporal","axis":null},"y":{"datum":0,"type":"quantitative","axis":null},"y2":{"datum":2}}}
 ]}
],
"resolve":{"scale":{"y":"independent","color":"independent"},"axis":{"x":"independent","y":"independent"}}
}
